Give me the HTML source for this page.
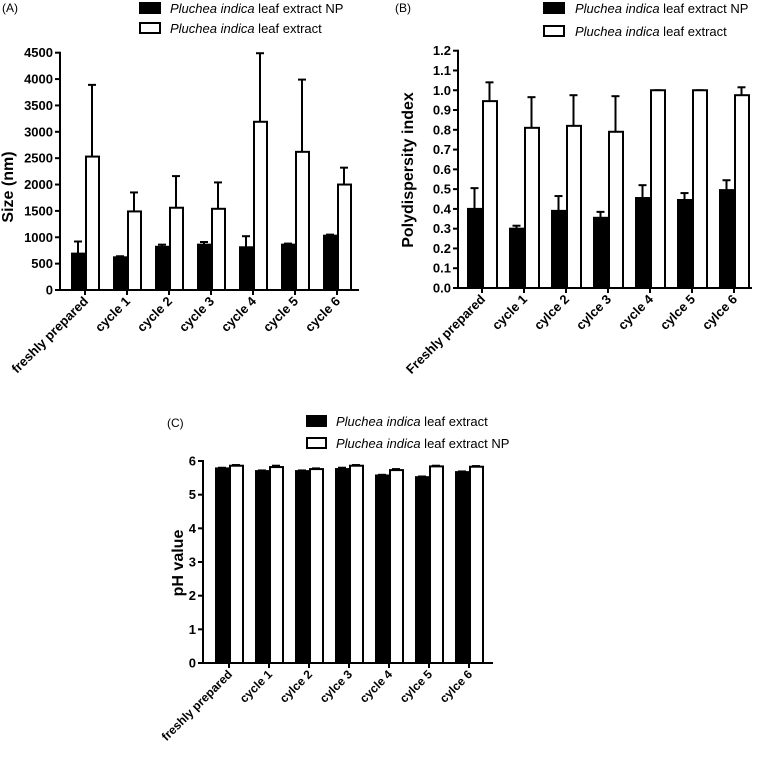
<!DOCTYPE html>
<html><head><meta charset="utf-8"><style>
body{margin:0;background:#fff;width:771px;height:754px;overflow:hidden}
svg{font-family:"Liberation Sans",Arial,sans-serif}
</style></head><body>
<svg id="s" width="771" height="754"></svg>
<script>
const catsA=["freshly prepared","cycle 1","cycle 2","cycle 3","cycle 4","cycle 5","cycle 6"];
const npA=[690,620,820,860,810,860,1030];
const npAerr=[920,640,860,910,1020,880,1050];
const exA=[2530,1490,1560,1540,3190,2620,2000];
const exAerr=[3890,1850,2160,2040,4490,3990,2320];
const ticksA=[0,500,1000,1500,2000,2500,3000,3500,4000,4500];

const catsB=["Freshly prepared","cycle 1","cylce 2","cylce 3","cycle 4","cylce 5","cylce 6"];
const npB=[0.40,0.30,0.39,0.355,0.455,0.445,0.495];
const npBerr=[0.505,0.315,0.465,0.385,0.52,0.48,0.545];
const exB=[0.945,0.81,0.82,0.79,1.0,1.0,0.975];
const exBerr=[1.04,0.965,0.975,0.97,1.0,1.0,1.015];
const ticksB=["0.0","0.1","0.2","0.3","0.4","0.5","0.6","0.7","0.8","0.9","1.0","1.1","1.2"];

const catsC=["freshly prepared","cycle 1","cylce 2","cylce 3","cycle 4","cylce 5","cylce 6"];
const exC=[5.78,5.70,5.70,5.76,5.57,5.52,5.67];
const exCerr=[5.80,5.72,5.72,5.80,5.59,5.54,5.69];
const npC=[5.86,5.82,5.76,5.86,5.73,5.84,5.83];
const npCerr=[5.88,5.86,5.78,5.88,5.76,5.86,5.85];
const ticksC=[0,1,2,3,4,5,6];

const svg=document.getElementById('s');
const NS="http://www.w3.org/2000/svg";
function el(t,a,p){const e=document.createElementNS(NS,t);for(const k in a)e.setAttribute(k,a[k]);(p||svg).appendChild(e);return e;}

function chart(o){
  const g=el('g',{});
  
  
  const y=v=>o.y0-(v-o.min)/(o.max-o.min)*(o.y0-o.yTop);
  const xc=i=>o.c0+i*o.step;
  for(let i=0;i<o.cats.length;i++){
    [[o.s1,o.e1,'#000',-1],[o.s2,o.e2,'#fff',0]].forEach(([s,e,f,off],k)=>{
      const x=xc(i)+off*o.bw;
      const top=y(s[i]);
      const ln=el('line',{x1:x+o.bw/2,x2:x+o.bw/2,y1:top,y2:y(e[i]),stroke:'#000','stroke-width':2},g);
      
      
      const cp=el('line',{x1:x+o.bw/2-4,x2:x+o.bw/2+4,y1:y(e[i]),y2:y(e[i]),stroke:'#000','stroke-width':2},g);
      
      
      const r=el('rect',{x:x+1,y:top,width:o.bw-1,height:o.y0-top,fill:f,stroke:'#000','stroke-width':2},g);
      
      
    });
    const t=el('line',{x1:xc(i),x2:xc(i),y1:o.y0,y2:o.y0+5,stroke:'#000','stroke-width':2},g);
    
    
    const lb=el('text',{x:0,y:0,'text-anchor':'end','font-size':o.xfs,'font-weight':'bold',transform:`translate(${xc(i)+4},${o.y0+12}) rotate(-45)`},g);
    lb.textContent=o.cats[i];
    
    
  }
  const ax=el('path',{d:`M${o.x0},${o.yTop-1}V${o.y0}H${o.xEnd}`,fill:'none',stroke:'#000','stroke-width':2},g);
  
  
  o.ticks.forEach(tv=>{
    const v=parseFloat(tv);
    const t=el('line',{x1:o.x0-5,x2:o.x0,y1:y(v),y2:y(v),stroke:'#000','stroke-width':2},g);
    
    
    const lb=el('text',{x:o.x0-7,y:y(v)+4.5,'text-anchor':'end','font-size':o.yfs,'font-weight':'bold'},g);
    lb.textContent=tv;
    
    
  });
  const yl=el('text',{x:0,y:0,'text-anchor':'middle','font-size':16,'font-weight':'bold',transform:`translate(${o.ylx},${o.yly}) rotate(-90)`},g);
  yl.textContent=o.ylab;
  
  
  const pl=el('text',{x:o.px,y:o.py,'font-size':12},g);
  pl.textContent=o.panel;
  
  
  o.leg.forEach((L,k)=>{
    const r=el('rect',{x:L.x,y:L.y,width:o.lw,height:10,fill:L.f,stroke:'#000','stroke-width':2},g);
    
    
    const t=el('text',{x:L.tx,y:L.y+10,'font-size':13},g);
    t.innerHTML='<tspan font-style="italic">Pluchea indica</tspan> '+L.t;
    
    
  });
}
chart({name:'chart-a-size',cats:catsA,s1:npA,e1:npAerr,s2:exA,e2:exAerr,ticks:ticksA,min:0,max:4500,
  y0:290,yTop:52.7,x0:60,xEnd:359,c0:85,step:42,bw:14,xfs:13,yfs:13,ylab:'Size (nm)',ylx:13,yly:187,
  panel:'(A)',px:2,py:12,lw:20,leg:[{x:140,y:3,f:'#000',tx:170,t:'leaf extract NP'},{x:140,y:23,f:'#fff',tx:170,t:'leaf extract'}]});
chart({name:'chart-b-pdi',cats:catsB,s1:npB,e1:npBerr,s2:exB,e2:exBerr,ticks:ticksB,min:0,max:1.2,
  y0:288,yTop:50.7,x0:458,xEnd:752,c0:482,step:42,bw:15,xfs:13,yfs:13,ylab:'Polydispersity index',ylx:413,yly:170,
  panel:'(B)',px:395,py:12,lw:20,leg:[{x:544,y:3,f:'#000',tx:575,t:'leaf extract NP'},{x:544,y:26,f:'#fff',tx:575,t:'leaf extract'}]});
chart({name:'chart-c-ph',cats:catsC,s1:exC,e1:exCerr,s2:npC,e2:npCerr,ticks:ticksC,min:0,max:6,
  y0:663,yTop:461,x0:203,xEnd:493,c0:229,step:40,bw:14,xfs:12,yfs:13,ylab:'pH value',ylx:183,yly:563,
  panel:'(C)',px:167,py:427,lw:19,leg:[{x:307,y:416,f:'#000',tx:336,t:'leaf extract'},{x:307,y:438,f:'#fff',tx:336,t:'leaf extract NP'}]});
</script>
</body></html>
